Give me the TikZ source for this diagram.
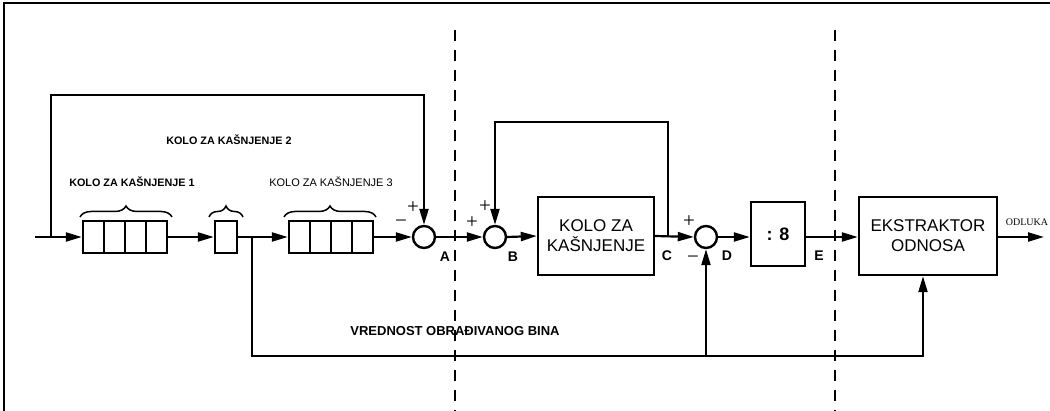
\documentclass[tikz,border=0pt]{standalone}
\usepackage{fontspec}
\setmainfont{Liberation Sans}
\newfontfamily\serifrm{Liberation Serif}
\usetikzlibrary{arrows.meta,decorations.pathreplacing}

\begin{document}
\begin{tikzpicture}[x=1pt,y=-1pt,line width=2.2pt,>={Triangle[length=16pt,width=9pt]}]
    \tikzstyle{cell}=[draw, rectangle, minimum width=21pt, minimum height=32pt, inner sep=0pt, line width=2.4pt]
    \tikzstyle{block}=[draw, rectangle, line width=2.4pt, align=center, inner sep=0pt, font=\fontsize{17}{20}\selectfont]
    \tikzstyle{sum}=[draw, circle, minimum size=22pt, inner sep=0pt, line width=2.4pt]
    \tikzstyle{tag}=[font=\bfseries\fontsize{14}{14}\selectfont, inner sep=0pt]
    \tikzstyle{sign}=[font=\serifrm\fontsize{21}{21}\selectfont, inner sep=0pt]
    \tikzstyle{note}=[font=\bfseries\fontsize{10.8}{12}\selectfont, inner sep=0pt]
    \tikzstyle{cut}=[line width=1.6pt, dash pattern=on 11pt off 9pt]
    \tikzstyle{curly}=[decorate, decoration={brace, amplitude=11pt}, line width=1.5pt]

    \useasboundingbox (0,0) rectangle (1050,411);
    % frame and cut lines
    \draw[line width=1.4pt] (4,411) -- (4,3) -- (1050,3);
    \draw[cut] (455,30) -- (455,411);
    \draw[cut] (835,30) -- (835,411);

    % shift registers
    \foreach \i in {1,...,4} {
      \node[cell] (p\i) at (72.5+21*\i,237) {};
      \node[cell] (q\i) at (278.5+21*\i,237) {};
    }
    \node[cell, minimum width=22pt] (s) at (226,237) {};

    \draw[curly] (80,217) -- (172,217);
    \draw[curly] (209,217) -- (243,217);
    \draw[curly] (284,217) -- (376,217);

    \node[note] at (229,140) {KOLO ZA KAŠNJENJE 2};
    \node[note] at (132,182) {KOLO ZA KAŠNJENJE 1};
    \node[font=\fontsize{11}{12}\selectfont, inner sep=0pt] at (331,182) {KOLO ZA KAŠNJENJE 3};

    % adders and blocks
    \node[sum] (A) at (424,237) {};
    \node[sum] (B) at (495,237) {};
    \node[sum] (D) at (706,237) {};
    \node[block, minimum width=116pt, minimum height=78pt] (K) at (596,236) {KOLO ZA\\KAŠNJENJE};
    \node[block, minimum width=54pt, minimum height=64pt, font=\bfseries\fontsize{18}{20}\selectfont] (div) at (778,234) {: 8};
    \node[block, minimum width=138pt, minimum height=78pt] (X) at (928,236) {EKSTRAKTOR\\ODNOSA};

    \node[tag] at (445,257) {A};
    \node[tag] at (513,257) {B};
    \node[tag] at (667,256) {C};
    \node[tag] at (727,256) {D};
    \node[tag] at (819,256) {E};

    \node[sign] at (413,208) {+};
    \node[sign] at (401,224) {−};
    \node[sign] at (485,207) {+};
    \node[sign] at (472,223) {+};
    \node[sign] at (689,222) {+};
    \node[sign] at (693,260) {−};

    \node[font=\serifrm\fontsize{10}{12}\selectfont, inner sep=0pt] at (1027,222) {ODLUKA};
    \node[font=\bfseries\fontsize{13}{14}\selectfont, inner sep=0pt] at (455,331) {VREDNOST OBRAĐIVANOG BINA};

    \coordinate (in) at (35,237);
    \coordinate (f1) at (51,237);
    \coordinate (j) at (252,237);
    \coordinate (j2) at (252,356);
    \coordinate (c) at (668,237);
    \coordinate (out) at (1044,237);

    % signal path
    \draw[->] (in) -- (p1.west);
    \draw[->] (p4.east) -- (s.west);
    \draw[->] (s.east) -- (q1.west);
    \draw[->] (q4.east) -- (A.west);
    \draw[->] (A.east) -- (B.west);
    \draw[->] (B.east) -- (K.west);
    \draw[->] (K.east) -- (D.west);
    \draw[->] (D.east) -- (div.west |- D.east);
    \draw[->] (div.east |- D.east) -- (X.west |- D.east);
    \draw[->] (X.east |- D.east) -- (out);

    % feedback paths
    \draw[->] (f1) -- ++(0,-142) -| (A.north);
    \draw[->] (c) -- ++(0,-115) -| (B.north);
    \draw[->] (j) -- (j2) -| ([xshift=-5pt]X.south);
    \draw[->] (D |- j2) -- (D.south);
\end{tikzpicture}
\end{document}
